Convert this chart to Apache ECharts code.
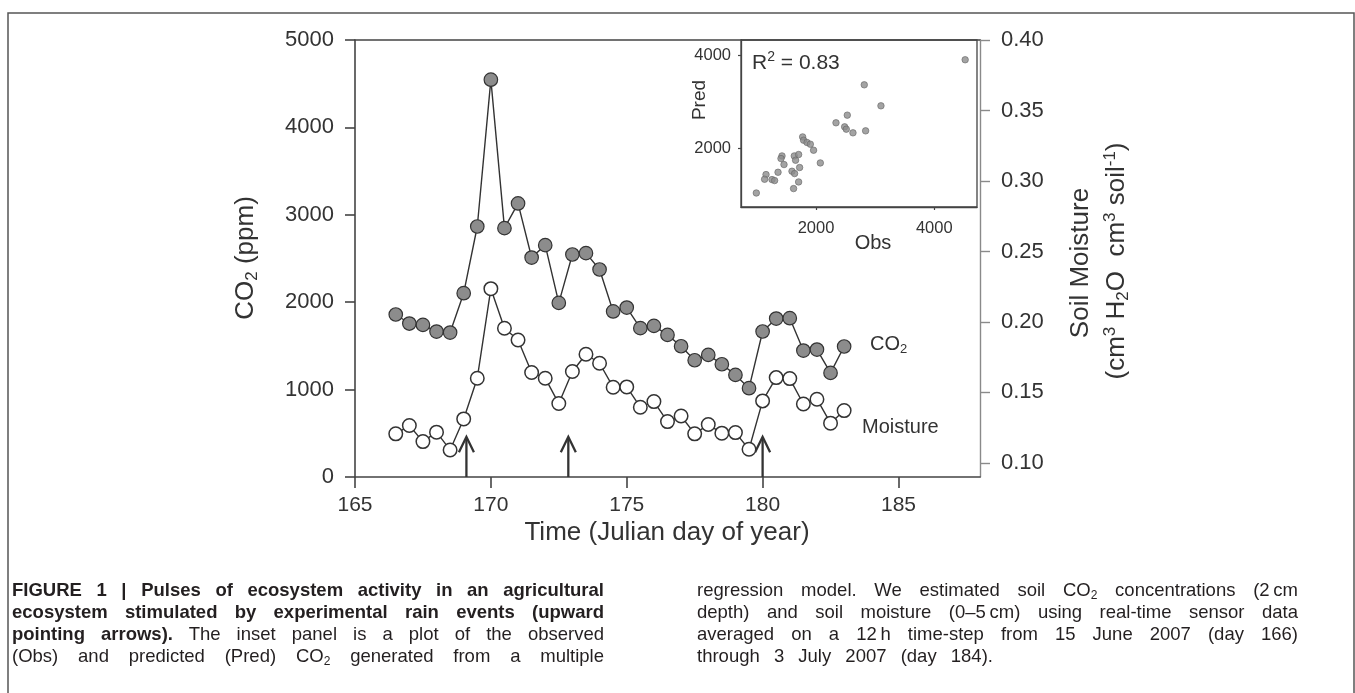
<!DOCTYPE html>
<html>
<head>
<meta charset="utf-8">
<script src="https://cdn.jsdelivr.net/npm/echarts@6/dist/echarts.min.js"></script>
<style>
html,body{margin:0;padding:0;background:#fff;}
#chart{position:absolute;left:0;top:0;width:1355px;height:693px;}
.cap{position:absolute;top:579px;font-family:'Liberation Sans',Arial,Helvetica,sans-serif;font-size:18.5px;line-height:22px;color:#231f20;}
.cap div{text-align:justify;text-align-last:justify;height:22px;overflow:visible;}
.cap div.last{text-align:left;text-align-last:left;word-spacing:9px;}
.cap sub{font-size:12px;line-height:0;vertical-align:-3px;}
.cap b{font-weight:bold;}
</style>
</head>
<body>
<div id="chart"></div>
<div class="cap" style="left:12px;width:592px;">
  <div><b>FIGURE 1 | Pulses of ecosystem activity in an agricultural</b></div>
  <div><b>ecosystem stimulated by experimental rain events (upward</b></div>
  <div><b>pointing arrows).</b> The inset panel is a plot of the observed</div>
  <div>(Obs) and predicted (Pred) CO<sub>2</sub> generated from a multiple</div>
</div>
<div class="cap" style="left:697px;width:601px;">
  <div>regression model. We estimated soil CO<sub>2</sub> concentrations (2&#8201;cm</div>
  <div>depth) and soil moisture (0&#8211;5&#8201;cm) using real-time sensor data</div>
  <div>averaged on a 12&#8201;h time-step from 15 June 2007 (day 166)</div>
  <div class="last">through 3 July 2007 (day 184).</div>
</div>
<script>
// ---- data ----
const days = [166.5,167,167.5,168,168.5,169,169.5,170,170.5,171,171.5,172,172.5,173,173.5,174,174.5,175,175.5,176,176.5,177,177.5,178,178.5,179,179.5,180,180.5,181,181.5,182,182.5,183];
const co2 = [1859,1756,1740,1664,1653,2103,2866,4546,2847,3130,2511,2653,1992,2546,2561,2374,1894,1939,1703,1729,1626,1496,1336,1397,1290,1168,1016,1665,1813,1817,1447,1458,1191,1493];
const moisture = [0.1206,0.1265,0.1151,0.1218,0.1092,0.1312,0.1601,0.2236,0.1955,0.1872,0.1641,0.1601,0.1421,0.1648,0.1771,0.1707,0.1537,0.1539,0.1395,0.1435,0.1293,0.1333,0.1206,0.1272,0.1211,0.1215,0.1097,0.1440,0.1605,0.1598,0.1418,0.1452,0.1282,0.1371];
const rainDays = [169.1, 172.85, 180.0];
const arrowTip = 460;
const insetObs  = [4522,2816,3098,2529,2338,2484,2512,2625,2839,1774,1790,1848,1904,1959,2073,1425,1408,1459,1358,1155,1131,1256,1300,991,1633,1706,1655,1723,1594,1638,1706,1621];
const insetPred = [3913,3373,2920,2719,2554,2467,2417,2338,2381,2250,2179,2130,2093,1963,1689,1840,1784,1654,1488,1438,1337,1330,1309,1041,1840,1870,1747,1590,1510,1460,1279,1136];
const xTicks = [165,170,175,180,185];
const co2Ticks = [0,1000,2000,3000,4000,5000];
const moistTicks = [0.10,0.15,0.20,0.25,0.30,0.35,0.40];
const insetTicks = [2000,4000];

const FONT = "'Liberation Sans', Arial, Helvetica, sans-serif";
const INK = '#333';
const AX = '#444';
const plain = (v)=>String(Math.round(v));

const chart = echarts.init(document.getElementById('chart'), null, {renderer:'canvas'});

const co2Data = days.map((d,i)=>[d, co2[i]]);
const moistData = days.map((d,i)=>[d, moisture[i]]);
const insetData = insetObs.map((o,i)=>[o, insetPred[i]]);

const option = {
  animation:false,
  backgroundColor:'#fff',
  textStyle:{fontFamily:FONT},
  grid:[
    {left:355, top:40, width:625, height:437, containLabel:false},
    {left:741, top:40, width:236, height:167, show:true, borderColor:AX, borderWidth:1.3, backgroundColor:'rgba(0,0,0,0)'}
  ],
  xAxis:[
    {gridIndex:0, type:'value', min:165, max:188, interval:5,
     axisLine:{show:true, onZero:false, lineStyle:{color:AX, width:1.6}},
     axisTick:{show:true, length:11, customValues:xTicks, lineStyle:{color:AX, width:1.6}},
     axisLabel:{fontSize:21, color:INK, margin:18, fontFamily:FONT, customValues:xTicks, formatter:plain},
     splitLine:{show:false}},
    {gridIndex:0, type:'value', position:'top', min:165, max:188,
     axisLine:{show:true, onZero:false, lineStyle:{color:AX, width:1.6}},
     axisTick:{show:false}, axisLabel:{show:false}, splitLine:{show:false}},
    {gridIndex:1, type:'value', min:732, max:4722,
     axisLine:{show:true, onZero:false, lineStyle:{color:AX, width:1.3}},
     axisTick:{show:true, length:3, customValues:insetTicks, lineStyle:{color:AX, width:1.2}},
     axisLabel:{fontSize:16.5, color:INK, margin:13, fontFamily:FONT, customValues:insetTicks, formatter:plain},
     splitLine:{show:false}}
  ],
  yAxis:[
    {gridIndex:0, type:'value', min:0, max:5000, interval:1000,
     axisLine:{show:true, onZero:false, lineStyle:{color:AX, width:1.6}},
     axisTick:{show:true, length:10, customValues:co2Ticks, lineStyle:{color:AX, width:1.6}},
     axisLabel:{fontSize:22, color:INK, margin:21, fontFamily:FONT, customValues:co2Ticks, formatter:plain},
     splitLine:{show:false}},
    {gridIndex:0, type:'value', position:'right', min:0.09, max:0.40,
     axisLine:{show:true, onZero:false, lineStyle:{color:'#8a8a8a', width:1.4}},
     axisTick:{show:true, length:10, customValues:moistTicks, lineStyle:{color:'#8a8a8a', width:1.4}},
     axisLabel:{fontSize:22, color:INK, margin:21, fontFamily:FONT, customValues:moistTicks,
                formatter:(v)=>Number(v).toFixed(2)},
     splitLine:{show:false}},
    {gridIndex:1, type:'value', min:739, max:4339,
     axisLine:{show:true, onZero:false, lineStyle:{color:AX, width:1.3}},
     axisTick:{show:true, length:3, customValues:insetTicks, lineStyle:{color:AX, width:1.2}},
     axisLabel:{fontSize:16.5, color:INK, margin:10, fontFamily:FONT, customValues:insetTicks, formatter:plain},
     splitLine:{show:false}}
  ],
  series:[
    {type:'custom', xAxisIndex:0, yAxisIndex:0, z:2, silent:true,
     data: rainDays.map(d=>[d, arrowTip]),
     renderItem:(params, api)=>{
       const b = api.coord([api.value(0), 0]);
       const t = api.coord([api.value(0), api.value(1)]);
       return {type:'group', children:[
         {type:'line', shape:{x1:b[0], y1:b[1], x2:t[0], y2:t[1]+1}, style:{stroke:'#333', lineWidth:2.3}},
         {type:'polyline', shape:{points:[[t[0]-7.5, t[1]+15.5],[t[0], t[1]],[t[0]+7.5, t[1]+15.5]]},
          style:{stroke:'#333', lineWidth:2.3, fill:null}}
       ]};
     }},
    {name:'CO2', type:'line', xAxisIndex:0, yAxisIndex:0, data:co2Data, z:3,
     symbol:'circle', symbolSize:13.5, showSymbol:true, showAllSymbol:true,
     lineStyle:{color:'#333', width:1.4},
     itemStyle:{color:'#8c8c8c', borderColor:'#333', borderWidth:1.2}},
    {name:'Moisture', type:'line', xAxisIndex:0, yAxisIndex:1, data:moistData, z:3,
     symbol:'circle', symbolSize:13.5, showSymbol:true, showAllSymbol:true,
     lineStyle:{color:'#333', width:1.4},
     itemStyle:{color:'#fff', borderColor:'#333', borderWidth:1.5}},
    {name:'Inset', type:'scatter', xAxisIndex:2, yAxisIndex:2, data:insetData, z:4,
     symbol:'circle', symbolSize:6.5,
     itemStyle:{color:'#8c8c8c', borderColor:'#666', borderWidth:0.8}}
  ],
  graphic:[
    {type:'rect', silent:true, z:100, shape:{x:8, y:13, width:1346, height:720},
     style:{fill:'none', stroke:'#555', lineWidth:1.5}},
    {type:'text', z:100, x:246, y:258, rotation:Math.PI/2,
     style:{text:'{a|CO}{s|2}{a| (ppm)}', align:'center', verticalAlign:'middle', fill:INK,
       rich:{a:{fontSize:26, fontFamily:FONT, lineHeight:30, fill:INK, color:INK},
             s:{fontSize:17, fontFamily:FONT, verticalAlign:'bottom', fill:INK, color:INK}}}},
    {type:'text', z:100, x:1081, y:263, rotation:Math.PI/2,
     style:{text:'Soil Moisture', align:'center', verticalAlign:'middle', fontSize:26, fontFamily:FONT, fill:INK}},
    {type:'text', z:100, x:1117, y:261, rotation:Math.PI/2,
     style:{text:'{a|(cm}{p|3}{a| H}{s|2}{a|O  cm}{p|3}{a| soil}{p|-1}{a|)}', align:'center', verticalAlign:'middle', fill:INK,
       rich:{a:{fontSize:26, fontFamily:FONT, lineHeight:30, fill:INK, color:INK},
             s:{fontSize:17, fontFamily:FONT, verticalAlign:'bottom', fill:INK, color:INK},
             p:{fontSize:17, fontFamily:FONT, verticalAlign:'top', fill:INK, color:INK}}}},
    {type:'text', z:100, x:667, y:533,
     style:{text:'Time (Julian day of year)', align:'center', verticalAlign:'middle', fontSize:26, fontFamily:FONT, fill:INK}},
    {type:'text', z:100, x:870, y:344,
     style:{text:'{a|CO}{s|2}', align:'left', verticalAlign:'middle', fill:INK,
       rich:{a:{fontSize:20, fontFamily:FONT, lineHeight:24, fill:INK, color:INK},
             s:{fontSize:13, fontFamily:FONT, verticalAlign:'bottom', fill:INK, color:INK}}}},
    {type:'text', z:100, x:862, y:427,
     style:{text:'Moisture', align:'left', verticalAlign:'middle', fontSize:20, fontFamily:FONT, fill:INK}},
    {type:'text', z:100, x:752, y:63,
     style:{text:'{a|R}{p|2}{a| = 0.83}', align:'left', verticalAlign:'middle', fill:INK,
       rich:{a:{fontSize:21, fontFamily:FONT, lineHeight:26, fill:INK, color:INK},
             p:{fontSize:14, fontFamily:FONT, verticalAlign:'top', fill:INK, color:INK}}}},
    {type:'text', z:100, x:700, y:100, rotation:Math.PI/2,
     style:{text:'Pred', align:'center', verticalAlign:'middle', fontSize:19, fontFamily:FONT, fill:INK}},
    {type:'text', z:100, x:873, y:243,
     style:{text:'Obs', align:'center', verticalAlign:'middle', fontSize:20, fontFamily:FONT, fill:INK}}
  ]
};
chart.setOption(option);
</script>
</body>
</html>
